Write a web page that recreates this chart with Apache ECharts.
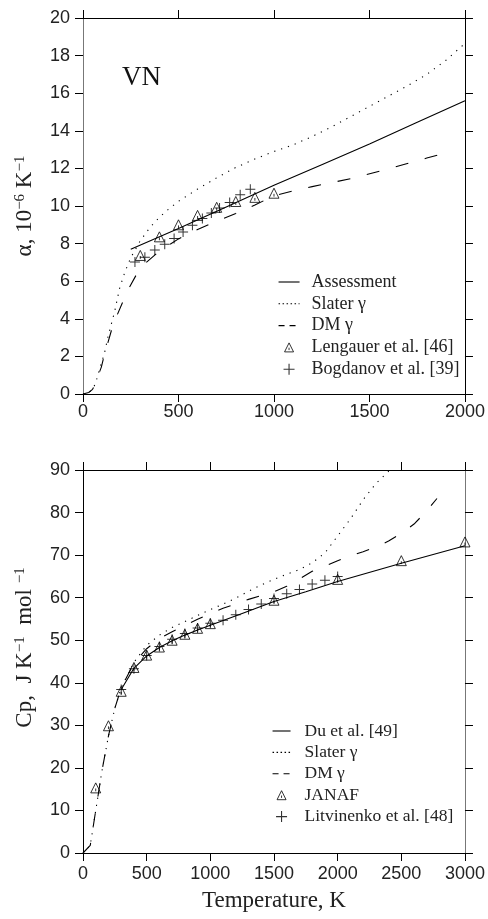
<!DOCTYPE html>
<html><head><meta charset="utf-8">
<script src="https://cdn.jsdelivr.net/npm/echarts@6/dist/echarts.min.js"></script>
<style>html,body{margin:0;padding:0;background:#fff}#c{width:488px;height:919px}</style>
</head><body><div id="c"></div>
<script>
// ---------- Top panel: thermal expansion alpha (1e-6 /K) ----------
const assessT = [250, 500, 750, 1000, 1250, 1500, 1750, 2000];
const assessA = [7.7, 8.8, 9.95, 11.1, 12.2, 13.3, 14.45, 15.6];

const slaterT = [0, 30, 50, 65, 78, 95, 113, 131, 166, 191, 218, 250, 300, 350, 400, 450, 500, 600, 700, 800, 900, 1000, 1100, 1200, 1300, 1400, 1500, 1600, 1700, 1800, 1900, 2000];
const slaterA = [0, 0.08, 0.25, 0.55, 1.0, 1.6, 2.2, 3.05, 4.4, 5.6, 6.45, 7.25, 8.15, 8.85, 9.4, 9.85, 10.25, 10.9, 11.5, 12.05, 12.5, 12.9, 13.25, 13.7, 14.2, 14.75, 15.3, 15.85, 16.4, 17.0, 17.75, 18.65];

const dmT = [0, 30, 50, 65, 80, 96, 113, 148, 165, 209, 226, 278, 313, 400, 500, 600, 700, 800, 900, 1000, 1100, 1200, 1400, 1600, 1800, 1940];
const dmA = [0, 0.08, 0.25, 0.55, 1.0, 1.43, 2.13, 3.35, 3.87, 4.92, 5.36, 6.32, 6.84, 7.6, 8.25, 8.75, 9.2, 9.6, 10.05, 10.55, 10.8, 11.03, 11.45, 11.98, 12.55, 12.93];

const lengT = [300, 400, 500, 600, 700, 800, 900, 1000];
const lengA = [7.37, 8.36, 9.0, 9.5, 9.93, 10.24, 10.46, 10.68];

const bogT = [272, 324, 376, 428, 477, 524, 573, 625, 672, 715, 768, 823, 876];
const bogA = [7.02, 7.28, 7.66, 7.97, 8.27, 8.62, 8.97, 9.34, 9.63, 9.9, 10.19, 10.6, 10.89];

// ---------- Bottom panel: heat capacity Cp ----------
const duT = [298, 400, 500, 600, 700, 800, 900, 1000, 1250, 1500, 1750, 2000, 2500, 3000];
const duC = [38.3, 43.4, 46.3, 48.3, 49.9, 51.2, 52.4, 53.5, 56.3, 59.1, 61.4, 63.8, 68.1, 72.2];

const slaterCT = [0, 57, 100, 150, 200, 250, 300, 400, 500, 600, 700, 800, 900, 1000, 1100, 1200, 1300, 1400, 1500, 1600, 1700, 1800, 1900, 2000, 2100, 2200, 2300, 2410];
const slaterC = [0, 1.8, 10, 19.5, 27.5, 34, 38.8, 44.8, 48.8, 51.2, 53.0, 54.4, 55.8, 57.2, 58.5, 59.9, 61.5, 63.0, 64.3, 65.5, 66.6, 68.2, 70.5, 74.5, 78.5, 83.0, 86.8, 90];

const dmCT = [0, 57, 100, 150, 200, 250, 300, 400, 500, 600, 700, 800, 900, 1000, 1100, 1200, 1300, 1400, 1500, 1600, 1700, 1800, 1900, 2000, 2100, 2200, 2300, 2400, 2500, 2600, 2700, 2780];
const dmC = [0, 1.8, 10, 19.5, 27.5, 34, 38.8, 44.6, 48.0, 50.4, 52.0, 53.5, 54.9, 56.3, 57.5, 58.5, 59.6, 60.5, 61.4, 62.7, 64.4, 66.2, 67.4, 68.7, 69.8, 70.8, 71.9, 73.3, 75.1, 77.3, 80.4, 83.3];

const janafT = [100, 200, 300, 400, 500, 600, 700, 800, 900, 1000, 1500, 2000, 2500, 3000];
const janafC = [15.3, 29.9, 38.0, 43.6, 46.5, 48.4, 50.0, 51.4, 52.8, 53.9, 59.4, 64.3, 68.7, 73.1];

const litT = [300, 400, 500, 600, 700, 800, 900, 1000, 1100, 1200, 1300, 1400, 1500, 1600, 1700, 1800, 1900, 2000];
const litC = [38.4, 43.3, 46.4, 48.5, 50.2, 51.6, 52.9, 54.0, 54.7, 56.0, 57.2, 58.5, 59.8, 60.9, 61.9, 63.2, 64.1, 65.0];

// axis ranges: [min, max, interval]
const topXTicks = [0, 2000, 500];
const topYTicks = [0, 20, 2];
const botXTicks = [0, 3000, 500];
const botYTicks = [0, 90, 10];

const zip = (a, b) => a.map((v, i) => [v, b[i]]);
const SERIF = '"Liberation Serif", "DejaVu Serif", serif';
const SANS = '"Liberation Sans", Arial, sans-serif';
const PLUS = 'path://M0,4.5H10V5.5H0Z M4.5,0H5.5V10H4.5Z';
const TRI = 'path://M5,0L10,10L0,10Z M5,5.6L5,8.4';

function lineS(name, xs, ys, gi, type) {
  return {
    type: 'line', name, data: zip(xs, ys), xAxisIndex: gi * 2, yAxisIndex: gi * 2,
    symbol: 'none', smooth: false, silent: true,
    lineStyle: { color: '#000', width: 1.1, type: type },
    itemStyle: { color: '#000' }, z: 3
  };
}
function triS(name, xs, ys, gi) {
  return {
    type: 'scatter', name, data: zip(xs, ys), xAxisIndex: gi * 2, yAxisIndex: gi * 2,
    symbol: TRI, symbolSize: [10, 10], symbolKeepAspect: true, silent: true,
    itemStyle: { color: 'rgba(255,255,255,0)', borderColor: '#000', borderWidth: 1 }, z: 4
  };
}
function plusS(name, xs, ys, gi) {
  return {
    type: 'scatter', name, data: zip(xs, ys), xAxisIndex: gi * 2, yAxisIndex: gi * 2,
    symbol: PLUS, symbolSize: 10, symbolKeepAspect: true, silent: true,
    itemStyle: { color: '#000' }, z: 4
  };
}
const fmt = v => String(v);
const TICK = { show: true, inside: false, length: 8, lineStyle: { color: '#000', width: 1 } };
// secondary (top/right) axes: labels kept but invisible so the ticks are laid out
const HIDDEN_LABEL = { show: true, color: 'rgba(0,0,0,0)', fontSize: 10, formatter: fmt };

function xAxes(gi, t, withName, margin) {
  const common = {
    type: 'value', gridIndex: gi, min: t[0], max: t[1], interval: t[2], show: true,
    splitLine: { show: false }, axisTick: TICK
  };
  return [
    Object.assign({}, common, {
      position: 'bottom',
      axisLine: { show: true, onZero: false, lineStyle: { color: '#000', width: 1 } },
      axisLabel: { show: true, margin: margin, fontFamily: SANS, fontSize: 18, color: '#222', formatter: fmt },
      name: withName ? 'Temperature, K' : '', nameLocation: 'middle', nameGap: 36,
      nameTextStyle: { fontFamily: SERIF, fontSize: 23, color: '#222' }
    }),
    Object.assign({}, common, {
      position: 'top',
      axisLine: { show: true, onZero: false, lineStyle: { color: '#000', width: 1 } },
      axisLabel: HIDDEN_LABEL
    })
  ];
}
function yAxes(gi, t, name, leftColor, rightColor, pad) {
  const common = {
    type: 'value', gridIndex: gi, min: t[0], max: t[1], interval: t[2], show: true,
    splitLine: { show: false }, axisTick: TICK
  };
  return [
    Object.assign({}, common, {
      position: 'left',
      axisLine: { show: true, onZero: false, lineStyle: { color: leftColor, width: 1 } },
      axisLabel: { show: true, margin: 13, fontFamily: SANS, fontSize: 18, color: '#222', formatter: fmt },
      name: name, nameLocation: 'middle', nameGap: 47,
      nameTextStyle: {
        fontFamily: SERIF, fontSize: 23, color: '#222', padding: pad,
        rich: {
          a: { fontFamily: SERIF, fontSize: 23, color: '#222' },
          s: { fontFamily: SERIF, fontSize: 15, color: '#222', verticalAlign: 'top' }
        }
      }
    }),
    Object.assign({}, common, {
      position: 'right',
      axisLine: { show: true, onZero: false, lineStyle: { color: rightColor, width: 1 } },
      axisLabel: HIDDEN_LABEL
    })
  ];
}

const legendText = { fontFamily: SERIF, fontSize: 18, color: '#222', lineHeight: 18, padding: [0, 0, 0, 7] };
function lineLegend(name, type) {
  return { name, itemStyle: { color: 'rgba(0,0,0,0)', borderWidth: 0 }, lineStyle: { type: type, width: 1.1, color: '#000' } };
}
function triIcon(w) {
  const c = w / 2;
  return 'path://M0,0M' + w + ',11M' + c + ',1L' + (c + 4.5) + ',10L' + (c - 4.5) + ',10Z M' + c + ',5.8L' + c + ',8.2';
}
function triLegend(name, w) {
  return { name, icon: triIcon(w), itemStyle: { color: 'rgba(255,255,255,0)', borderColor: '#000', borderWidth: 1 } };
}

const option = {
  animation: false,
  backgroundColor: '#fff',
  title: { text: 'VN', left: 122, top: 64, padding: 0, textStyle: { fontFamily: SERIF, fontSize: 27, fontWeight: 'normal', color: '#111' } },
  grid: [
    { left: 83, top: 12, width: 383, height: 382 },
    { left: 83, top: 470, width: 383, height: 383 }
  ],
  xAxis: [].concat(xAxes(0, topXTicks, false, 9), xAxes(1, botXTicks, true, 12)),
  yAxis: [].concat(
    yAxes(0, topYTicks, '{a|α, 10}{s|−6}{a| K}{s|−1}', '#777', '#000', [0, 0, 0, 0]),
    yAxes(1, botYTicks, '{a|Cp,  J K}{s|−1}{a|  mol }{s|−1}', '#000', '#777', [0, 0, 0, 28])
  ),
  legend: [
    {
      left: 278, top: 273, padding: 0, orient: 'vertical', itemWidth: 21, itemHeight: 11, itemGap: 3.8,
      textStyle: legendText, selectedMode: false,
      data: [
        lineLegend('Assessment', 'solid'),
        lineLegend('Slater γ', [1.5, 2.5]),
        lineLegend('DM γ', [6, 5]),
        triLegend('Lengauer et al. [46]', 21),
        { name: 'Bogdanov et al. [39]' }
      ]
    },
    {
      left: 272, top: 722, padding: 0, orient: 'vertical', itemWidth: 18, itemHeight: 11, itemGap: 3.4,
      textStyle: Object.assign({}, legendText, { fontSize: 17.5, padding: [0, 0, 0, 9] }), selectedMode: false,
      data: [
        lineLegend('Du et al. [49]', 'solid'),
        lineLegend('Slater γ ', [1.5, 2.5]),
        lineLegend('DM γ ', [6, 5]),
        triLegend('JANAF', 18),
        { name: 'Litvinenko et al. [48]' }
      ]
    }
  ],
  series: [
    lineS('Assessment', assessT, assessA, 0, 'solid'),
    lineS('Slater γ', slaterT, slaterA, 0, [1.2, 6]),
    lineS('DM γ', dmT, dmA, 0, [13, 17]),
    triS('Lengauer et al. [46]', lengT, lengA, 0),
    plusS('Bogdanov et al. [39]', bogT, bogA, 0),
    lineS('Du et al. [49]', duT, duC, 1, 'solid'),
    lineS('Slater γ ', slaterCT, slaterC, 1, [1.2, 6]),
    lineS('DM γ ', dmCT, dmC, 1, [13, 17]),
    triS('JANAF', janafT, janafC, 1),
    plusS('Litvinenko et al. [48]', litT, litC, 1)
  ]
};
const chart = echarts.init(document.getElementById('c'), null, { renderer: 'canvas' });
chart.setOption(option);
</script></body></html>
